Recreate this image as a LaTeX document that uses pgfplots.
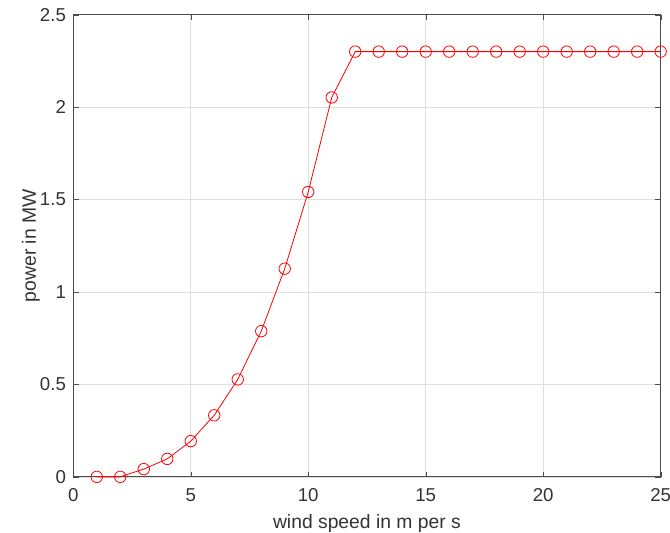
\documentclass[border=0pt]{standalone}
\usepackage{fontspec}
\setmainfont{Liberation Sans}
\usepackage{pgfplots}
\pgfplotsset{compat=1.18}
\begin{document}
\begin{tikzpicture}
\begin{axis}[
  name=ax,
  scale only axis,
  width=441pt, height=347pt,
  xmin=0, xmax=25, ymin=0, ymax=2.5,
  xtick={0,5,10,15,20,25},
  ytick={0,0.5,1,1.5,2,2.5},
  yticklabels={0,0.5,1,1.5,2,2.5},
  grid=major,
  major grid style={gray!25, line width=0.5pt},
  axis line style={black!70, line width=0.6pt},
  tick style={black!70},
  tick align=inside,
  major tick length=4pt,
  every tick label/.style={font=\fontsize{14}{16}\selectfont, text=black!80},
  yticklabel style={xshift=-2pt},
  xticklabel style={yshift=-5pt},
  /pgf/number format/assume math mode=true,
  xlabel={wind speed in m per s},
  ylabel={power in MW},
  label style={font=\fontsize{14.5}{17}\selectfont, text=black!80},
  xlabel style={at={(axis description cs:0.5,-0.102)}, anchor=center},
  ylabel style={at={(axis description cs:-0.072,0.5)}, anchor=center},
  clip=false,
]
\addplot[red, line width=0.6pt, mark=o, mark size=4.3pt, mark options={line width=0.6pt}] coordinates {
(1,0) (2,0) (3,0.042) (4,0.097) (5,0.193) (6,0.333) (7,0.527) (8,0.788)
(9,1.126) (10,1.541) (11,2.052) (12,2.3) (13,2.3) (14,2.3) (15,2.3)
(16,2.3) (17,2.3) (18,2.3) (19,2.3) (20,2.3) (21,2.3) (22,2.3) (23,2.3)
(24,2.3) (25,2.3)
};
\end{axis}
\pgfresetboundingbox
\path[use as bounding box] ([shift={(-55pt,-42pt)}]ax.south west) rectangle ([shift={(7pt,11pt)}]ax.north east);
\end{tikzpicture}
\end{document}
